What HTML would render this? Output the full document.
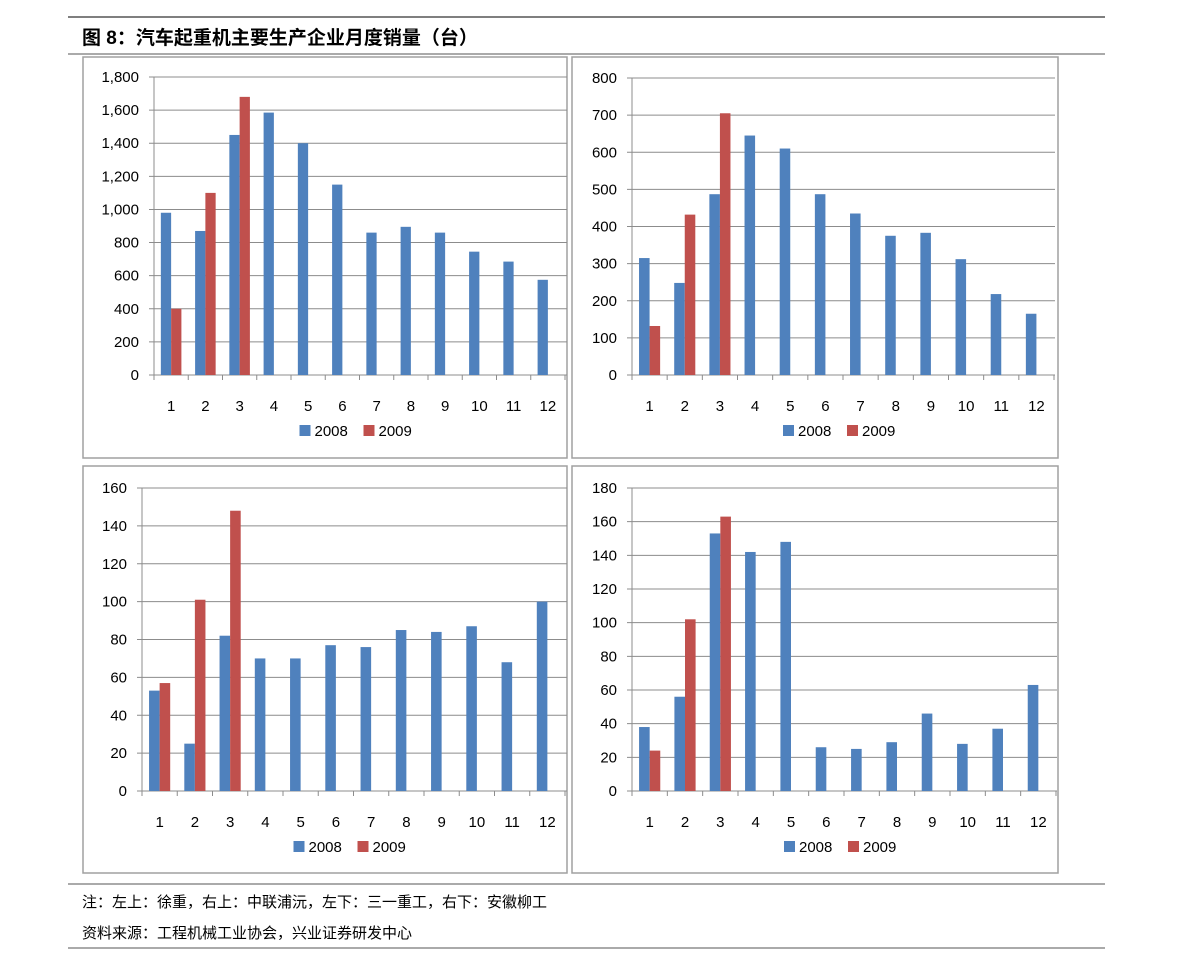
<!DOCTYPE html>
<html><head><meta charset="utf-8"><style>
body{margin:0;background:#fff;width:1191px;height:964px;overflow:hidden}
svg text{font-family:"Liberation Sans","Noto Sans CJK SC",sans-serif}
</style></head><body>
<svg id="s" width="1191" height="964" xmlns="http://www.w3.org/2000/svg">
<line x1="68" y1="17" x2="1105" y2="17" stroke="#555" stroke-width="1.5"/>
<text x="82" y="44" font-size="19" font-weight="bold" fill="#000">图 8：汽车起重机主要生产企业月度销量（台）</text>
<line x1="68" y1="54" x2="1105" y2="54" stroke="#555" stroke-width="1"/>
<line x1="68" y1="884" x2="1105" y2="884" stroke="#555" stroke-width="1"/>
<text x="82" y="907" font-size="15" fill="#000">注：左上：徐重，右上：中联浦沅，左下：三一重工，右下：安徽柳工</text>
<text x="82" y="938" font-size="15" fill="#000">资料来源：工程机械工业协会，兴业证券研发中心</text>
<line x1="68" y1="948" x2="1105" y2="948" stroke="#555" stroke-width="1"/>
</svg>
<script>
const months=["1","2","3","4","5","6","7","8","9","10","11","12"];
const xcmg2008=[980,870,1450,1585,1400,1150,860,895,860,745,685,575];
const xcmg2009=[400,1100,1680];
const zoomlion2008=[315,248,487,645,610,487,435,375,383,312,218,165];
const zoomlion2009=[132,432,705];
const sany2008=[53,25,82,70,70,77,76,85,84,87,68,100];
const sany2009=[57,101,148];
const liugong2008=[38,56,153,142,148,26,25,29,46,28,37,63];
const liugong2009=[24,102,163];
const ticksTL=[0,200,400,600,800,1000,1200,1400,1600,1800];
const ticksTR=[0,100,200,300,400,500,600,700,800];
const ticksBL=[0,20,40,60,80,100,120,140,160];
const ticksBR=[0,20,40,60,80,100,120,140,160,180];
const NS="http://www.w3.org/2000/svg";
const svg=document.getElementById('s');
function mk(tag,attrs,parent){const e=document.createElementNS(NS,tag);for(const k in attrs)e.setAttribute(k,attrs[k]);(parent||svg).appendChild(e);return e;}
function fmt(v){return v.toLocaleString('en-US');}
function panel(name,box,plot,ticks,s08,s09){
  const g=mk('g',{});
  
  
  const b=mk('rect',{x:box.x,y:box.y,width:box.w,height:box.h,fill:'none',stroke:'#a0a0a0','stroke-width':1.5},g);
  
  
  const max=ticks[ticks.length-1];
  const yS=v=>plot.y0-(v/max)*(plot.y0-plot.y1);
  const gw=(plot.x1-plot.x0)/months.length;
  const xS=i=>plot.x0+gw*i;
  ticks.forEach(t=>{
    const y=yS(t);
    const l=mk('line',{x1:plot.x0-5,y1:y,x2:plot.gx,y2:y,stroke:'#8c8c8c','stroke-width':1},g);
    
    
    const tx=mk('text',{x:plot.x0-15,y:y+5,'font-size':15,'text-anchor':'end',fill:'#000'},g);
    
    
    tx.textContent=fmt(t);
  });
  const bw=gw*0.3;
  months.forEach((m,i)=>{
    const cx=xS(i)+gw/2;
    if(s08[i]!=null){const r=mk('rect',{x:cx-bw,y:yS(s08[i]),width:bw,height:plot.y0-yS(s08[i]),fill:'#4f81bd'},g);
      
      }
    if(s09[i]!=null){const r=mk('rect',{x:cx,y:yS(s09[i]),width:bw,height:plot.y0-yS(s09[i]),fill:'#c0504d'},g);
      
      }
    const t=mk('line',{x1:xS(i),y1:plot.y0,x2:xS(i),y2:plot.y0+5,stroke:'#8c8c8c'},g);
    
    
    const lb=mk('text',{x:cx,y:plot.y0+36,'font-size':15,'text-anchor':'middle',fill:'#000'},g);
    
    
    lb.textContent=m;
  });
  const t=mk('line',{x1:plot.x1,y1:plot.y0,x2:plot.x1,y2:plot.y0+5,stroke:'#8c8c8c'},g);
  
  
  const ax=mk('line',{x1:plot.x0,y1:plot.y1,x2:plot.x0,y2:plot.y0,stroke:'#8c8c8c'},g);
  
  
  const lx=(plot.x0+plot.x1)/2-60, ly=plot.y0+61;
  [['2008','#4f81bd',0],['2009','#c0504d',64]].forEach(([n,c,o])=>{
    const sw=mk('rect',{x:lx+o,y:ly-11,width:11,height:11,fill:c},g);
    
    
    const tx=mk('text',{x:lx+o+15,y:ly,'font-size':15,fill:'#000'},g);
    
    
    tx.textContent=n;
  });
}
panel('chart-xcmg',{x:83,y:57,w:484,h:401},{x0:154,x1:565,y0:375,y1:77,gx:567},ticksTL,xcmg2008,xcmg2009);
panel('chart-zoomlion',{x:572,y:57,w:486,h:401},{x0:632,x1:1054,y0:375,y1:78,gx:1055},ticksTR,zoomlion2008,zoomlion2009);
panel('chart-sany',{x:83,y:466,w:484,h:407},{x0:142,x1:565,y0:791,y1:488,gx:567},ticksBL,sany2008,sany2009);
panel('chart-liugong',{x:572,y:466,w:486,h:407},{x0:632,x1:1056,y0:791,y1:488,gx:1057},ticksBR,liugong2008,liugong2009);
</script>
</body></html>
